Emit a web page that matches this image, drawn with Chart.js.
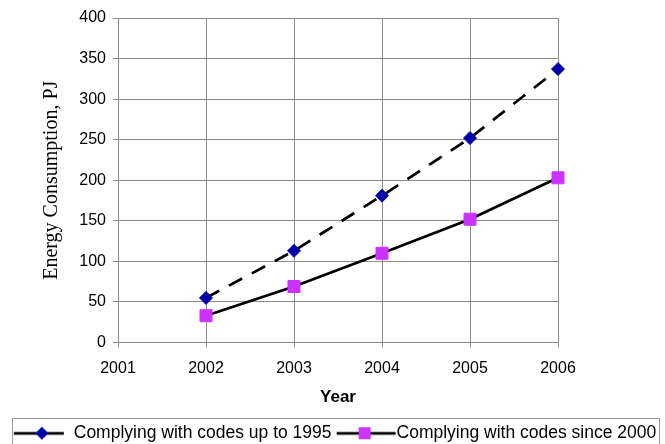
<!DOCTYPE html>
<html>
<head>
<meta charset="utf-8">
<script src="https://cdn.jsdelivr.net/npm/chart.js@4.4.1/dist/chart.umd.min.js"></script>
<style>
html, body { margin: 0; padding: 0; background: #fff; }
#wrap { width: 665px; height: 444px; position: relative; }
</style>
</head>
<body>
<div id="wrap"><canvas id="energyChart"></canvas></div>
<script>
// Energy consumption by building code compliance
const years = ['2001', '2002', '2003', '2004', '2005', '2006'];
const codesUpTo1995 = [null, 55, 113, 181, 252, 337];
const codesSince2000 = [null, 33, 69, 110, 152, 203];
const yTicks = [0, 50, 100, 150, 200, 250, 300, 350, 400];
const seriesNames = ['Complying with codes up to 1995', 'Complying with codes since 2000'];

const NAVY = '#0000A8';
const VIOLET = '#CC33FF';
const GRID = '#8c8c8c';
const SANS = "'Liberation Sans', Arial, sans-serif";

// little line + marker pictures for the legend
function legendSample(w, from, to, markAt, drawMark) {
    const c = document.createElement('canvas');
    c.width = w;
    c.height = 16;
    const ctx = c.getContext('2d');
    ctx.strokeStyle = '#000';
    ctx.lineWidth = 2.75;
    ctx.beginPath();
    ctx.moveTo(from, 8);
    ctx.lineTo(to, 8);
    ctx.stroke();
    drawMark(ctx, markAt, 8);
    return c;
}

function diamond(ctx, x, y) {
    ctx.fillStyle = NAVY;
    ctx.beginPath();
    ctx.moveTo(x, y - 6.5);
    ctx.lineTo(x + 6.5, y);
    ctx.lineTo(x, y + 6.5);
    ctx.lineTo(x - 6.5, y);
    ctx.closePath();
    ctx.fill();
}

function square(ctx, x, y) {
    ctx.fillStyle = VIOLET;
    ctx.fillRect(x - 6, y - 6, 12, 12);
}

const samples = [
    legendSample(64, 5, 55, 33, diamond),
    legendSample(70, 8, 67, 36, square)
];

const legendFrame = {
    id: 'legendFrame',
    afterLayout(chart) {
        // nudge the legend row a little to the right, as in the original
        chart.legend.left += 4;
        chart.legend.right += 4;
    },
    afterDraw(chart) {
        const ctx = chart.ctx;
        ctx.save();
        ctx.strokeStyle = '#9a9a9a';
        ctx.lineWidth = 1;
        ctx.strokeRect(12.5, 418.5, 647, 30);
        ctx.restore();
    }
};

new Chart(document.getElementById('energyChart'), {
    type: 'line',
    data: {
        labels: years,
        datasets: [{
            label: seriesNames[0],
            data: codesUpTo1995,
            borderColor: '#000',
            borderWidth: 2.75,
            borderDash: [15, 11],
            pointStyle: 'rectRot',
            pointRadius: 6.5,
            pointBorderWidth: 1,
            pointBackgroundColor: NAVY,
            pointBorderColor: NAVY,
            tension: 0
        }, {
            label: seriesNames[1],
            data: codesSince2000,
            borderColor: '#000',
            borderWidth: 2.75,
            pointStyle: 'rect',
            pointRadius: 8.5,
            pointBorderWidth: 1,
            pointBackgroundColor: VIOLET,
            pointBorderColor: VIOLET,
            tension: 0
        }]
    },
    options: {
        responsive: true,
        maintainAspectRatio: false,
        animation: false,
        layout: { padding: { top: 18, bottom: -8, left: 0, right: 0 } },
        plugins: {
            tooltip: { enabled: false },
            legend: {
                position: 'bottom',
                labels: {
                    usePointStyle: true,
                    pointStyleWidth: 48.25,
                    padding: 8,
                    color: '#000',
                    font: { family: SANS, size: 17.5 },
                    generateLabels: (chart) => chart.data.datasets.map((ds, i) => ({
                        text: ds.label,
                        pointStyle: samples[i],
                        datasetIndex: i,
                        hidden: false,
                        fontColor: '#000',
                        fillStyle: 'transparent',
                        strokeStyle: 'transparent',
                        lineWidth: 0
                    }))
                }
            }
        },
        scales: {
            x: {
                offset: false,
                grid: { color: GRID, offset: false, tickLength: 5 },
                border: { color: GRID },
                ticks: {
                    color: '#000',
                    padding: 11,
                    maxRotation: 0,
                    autoSkip: false,
                    font: { family: SANS, size: 16 }
                },
                title: {
                    display: true,
                    text: 'Year',
                    color: '#000',
                    font: { family: SANS, size: 17, weight: 'bold' },
                    padding: { top: 0, bottom: 8.5 }
                },
                afterFit: (scale) => { scale.height = 74; }
            },
            y: {
                min: yTicks[0],
                max: yTicks[yTicks.length - 1],
                grid: { color: GRID, tickLength: 5 },
                border: { color: GRID },
                ticks: {
                    stepSize: yTicks[1] - yTicks[0],
                    color: '#000',
                    padding: 7,
                    font: { family: SANS, size: 16 }
                },
                title: {
                    display: true,
                    text: 'Energy Consumption, PJ',
                    color: '#000',
                    font: { family: "'Liberation Serif', 'Times New Roman', serif", size: 20, weight: 'normal' },
                    padding: { top: 40, bottom: 0 }
                },
                afterFit: (scale) => { scale.width = 118; }
            },
            yRight: {
                position: 'right',
                grid: { display: false },
                border: { display: false },
                ticks: { display: false },
                afterFit: (scale) => { scale.width = 107; }
            }
        }
    },
    plugins: [legendFrame]
});
</script>
</body>
</html>
